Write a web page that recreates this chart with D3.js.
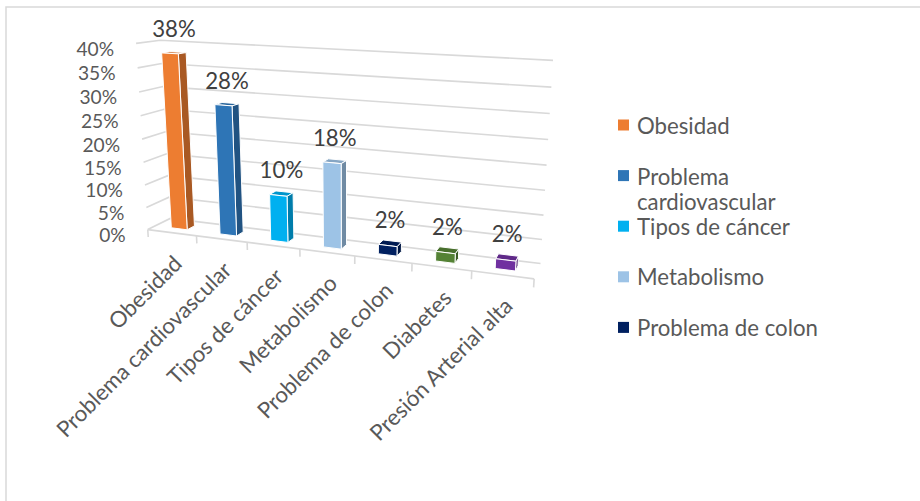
<!DOCTYPE html>
<html>
<head>
<meta charset="utf-8">
<script src="https://cdn.jsdelivr.net/npm/d3@7"></script>
<style>
  html, body { margin: 0; padding: 0; background: #fff; }
  svg { display: block; }
  text { font-family: "Lato", "Open Sans", sans-serif; }
</style>
</head>
<body>
<svg id="chart" width="920" height="501"></svg>
<script>
// ---------------- data ----------------
const categories = ["Obesidad", "Problema cardiovascular", "Tipos de cáncer", "Metabolismo",
                    "Problema de colon", "Diabetes", "Presión Arterial alta"];
const values = [0.38, 0.28, 0.10, 0.18, 0.02, 0.02, 0.02];
const colors = ["#ED7D31", "#2E75B6", "#00B0F0", "#9DC3E6", "#002060", "#548235", "#7030A0"];
const yTicks = [0, 0.05, 0.10, 0.15, 0.20, 0.25, 0.30, 0.35, 0.40];
const legendItems = categories.slice(0, 5);

// ---------------- layout: perspective calibration (world X, Y, Z -> screen u, v) ----------------
const calib = [
  [0,0,0,148,229],[1,0,0,197,235.5],[2,0,0,247,242],[3,0,0,300,249],[4,0,0,355,256.5],
  [5,0,0,412,264],[6,0,0,472,272],[7,0,0,533,280],
  [0,4,0,136,44],[0,2,0,142,136.5],
  [0,0,1,170,220],[7,0,1,540,262],[0,4,1,160,41],[7,4,1,553,61],
  [7,1,1,544,214],[7,2,1,547,165],[7,3,1,550,113]
];

function solveLinear(A, b) {
  const n = b.length;
  const M = A.map((r, i) => r.concat([b[i]]));
  for (let c = 0; c < n; c++) {
    let p = c;
    for (let r = c + 1; r < n; r++) if (Math.abs(M[r][c]) > Math.abs(M[p][c])) p = r;
    [M[c], M[p]] = [M[p], M[c]];
    for (let r = c + 1; r < n; r++) {
      const f = M[r][c] / M[c][c];
      for (let k = c; k <= n; k++) M[r][k] -= f * M[c][k];
    }
  }
  const x = new Array(n).fill(0);
  for (let r = n - 1; r >= 0; r--) {
    let s = M[r][n];
    for (let k = r + 1; k < n; k++) s -= M[r][k] * x[k];
    x[r] = s / M[r][r];
  }
  return x;
}
function fitCamera(pts) {
  const rows = [], rhs = [];
  pts.forEach(([X, Y, Z, u, v]) => {
    rows.push([X, Y, Z, 1, 0, 0, 0, 0, -u * X, -u * Y, -u * Z]); rhs.push(u);
    rows.push([0, 0, 0, 0, X, Y, Z, 1, -v * X, -v * Y, -v * Z]); rhs.push(v);
  });
  const n = 11;
  const AtA = Array.from({length: n}, () => new Array(n).fill(0));
  const Atb = new Array(n).fill(0);
  rows.forEach((r, i) => {
    for (let a = 0; a < n; a++) {
      Atb[a] += r[a] * rhs[i];
      for (let c = 0; c < n; c++) AtA[a][c] += r[a] * r[c];
    }
  });
  return solveLinear(AtA, Atb);
}
const P = fitCamera(calib);
function proj(X, Y, Z) {
  const w = P[8] * X + P[9] * Y + P[10] * Z + 1;
  return [(P[0] * X + P[1] * Y + P[2] * Z + P[3]) / w, (P[4] * X + P[5] * Y + P[6] * Z + P[7]) / w];
}

// ---------------- scales ----------------
const x = d3.scaleBand().domain(categories).range([0, 7]).paddingInner(0.67).paddingOuter(0.335);
const y = d3.scaleLinear().domain([0, 0.4]).range([0, 4]);
const zFront = 0.33, zBack = 0.67, zMid = 0.5;
const pct = d3.format(".0%");
const gridColor = "#D9D9D9";

const svg = d3.select("#chart");

// base font size fitted so legend text matches
const probe = svg.append("text").attr("font-size", 20).text("Problema de colon");
const fs = 20 * 181 / probe.node().getComputedTextLength();
probe.remove();
const fsTick = 19.2;

// chart border
svg.append("rect").attr("x", 6).attr("y", 7).attr("width", 1000).attr("height", 1000)
  .attr("fill", "none").attr("stroke", gridColor).attr("stroke-width", 1.5);

const line = d3.line();
const g = svg.append("g");

// gridlines (left wall + back wall)
g.selectAll("path.grid").data(yTicks).join("path")
  .attr("class", "grid")
  .attr("d", t => line([proj(0, y(t), 0), proj(0, y(t), 1), proj(7, y(t), 1)]))
  .attr("fill", "none").attr("stroke", gridColor).attr("stroke-width", 1.6);

// front floor edge (category axis) and ticks
g.append("path").attr("d", line([proj(0, 0, 0), proj(7, 0, 0)]))
  .attr("fill", "none").attr("stroke", gridColor).attr("stroke-width", 1.6);
const bounds = categories.map(c => x(c) - (x.step() - x.bandwidth()) / 2).concat([7]);
g.selectAll("path.tick").data(bounds).join("path")
  .attr("class", "tick")
  .attr("d", b => line([proj(b, 0, 0), proj(b, -0.17, 0)]))
  .attr("fill", "none").attr("stroke", gridColor).attr("stroke-width", 1.6);

// y tick labels
g.selectAll("text.ytick").data(yTicks).join("text")
  .attr("class", "ytick")
  .attr("x", t => proj(0, y(t), 0)[0] - 22)
  .attr("y", t => proj(0, y(t), 0)[1] + 5)
  .attr("text-anchor", "end").attr("dominant-baseline", "central")
  .attr("font-size", fsTick).attr("fill", "#595959")
  .text(t => pct(t));

// category labels
g.selectAll("text.xlab").data(categories).join("text")
  .attr("class", "xlab")
  .attr("transform", c => {
    const p = proj(x(c) + x.bandwidth() / 2, 0, 0);
    return `translate(${p[0] + 6},${p[1] + 27}) rotate(-45)`;
  })
  .attr("text-anchor", "end").attr("dy", "0.35em")
  .attr("font-size", fs).attr("fill", "#595959")
  .text(c => c);

// bars
const bars = g.selectAll("g.bar").data(categories).join("g").attr("class", "bar");
const poly = pts => "M" + pts.map(p => p.join(",")).join("L") + "Z";
bars.each(function(c, i) {
  const gb = d3.select(this);
  const x0 = x(c), x1 = x(c) + x.bandwidth(), v = y(values[i]);
  const base = d3.color(colors[i]);
  gb.append("path")
    .attr("d", poly([proj(x0, v, zFront), proj(x1, v, zFront), proj(x1, v, zBack), proj(x0, v, zBack)]))
    .attr("fill", base.darker(0.45)).attr("stroke", "#fff").attr("stroke-width", 1).attr("stroke-linejoin", "round");
  gb.append("path")
    .attr("d", poly([proj(x1, 0, zFront), proj(x1, 0, zBack), proj(x1, v, zBack), proj(x1, v, zFront)]))
    .attr("fill", base.darker(0.95)).attr("stroke", "#fff").attr("stroke-width", 1).attr("stroke-linejoin", "round");
  gb.append("path")
    .attr("d", poly([proj(x0, 0, zFront), proj(x1, 0, zFront), proj(x1, v, zFront), proj(x0, v, zFront)]))
    .attr("fill", base).attr("stroke", "#fff").attr("stroke-width", 1).attr("stroke-linejoin", "round");
});

// data labels
g.selectAll("text.dlab").data(categories).join("text")
  .attr("class", "dlab")
  .attr("x", (c, i) => proj(x(c) + x.bandwidth() / 2, y(values[i]), zMid)[0])
  .attr("y", (c, i) => proj(x(c) + x.bandwidth() / 2, y(values[i]), zMid)[1] - 24)
  .attr("text-anchor", "middle").attr("dominant-baseline", "central")
  .attr("font-size", fs).attr("fill", "#404040")
  .text((c, i) => pct(values[i]));

// legend
const legTop = 125, legPitch = 50.6, legX = 618, legMaxW = 190, legLine = 25.5;
const fsLeg = fs;
const leg = svg.append("g");
legendItems.forEach((c, i) => {
  const cy = legTop + i * legPitch;
  leg.append("rect").attr("x", legX).attr("y", cy - 5.5).attr("width", 11).attr("height", 11)
    .attr("fill", colors[categories.indexOf(c)]);
  const t = leg.append("text").attr("x", legX + 19).attr("y", cy)
    .attr("dominant-baseline", "central").attr("font-size", fsLeg).attr("fill", "#595959").text(c);
  if (t.node().getComputedTextLength() > legMaxW) {
    const words = c.split(" ");
    t.text(null);
    let lineWords = [], ln = 0;
    let ts = t.append("tspan").attr("x", legX + 19).attr("y", cy);
    words.forEach(w => {
      lineWords.push(w);
      ts.text(lineWords.join(" "));
      if (ts.node().getComputedTextLength() > legMaxW && lineWords.length > 1) {
        lineWords.pop(); ts.text(lineWords.join(" "));
        lineWords = [w]; ln++;
        ts = t.append("tspan").attr("x", legX + 19).attr("y", cy + ln * legLine).text(w);
      }
    });
  }
});
</script>
</body>
</html>
